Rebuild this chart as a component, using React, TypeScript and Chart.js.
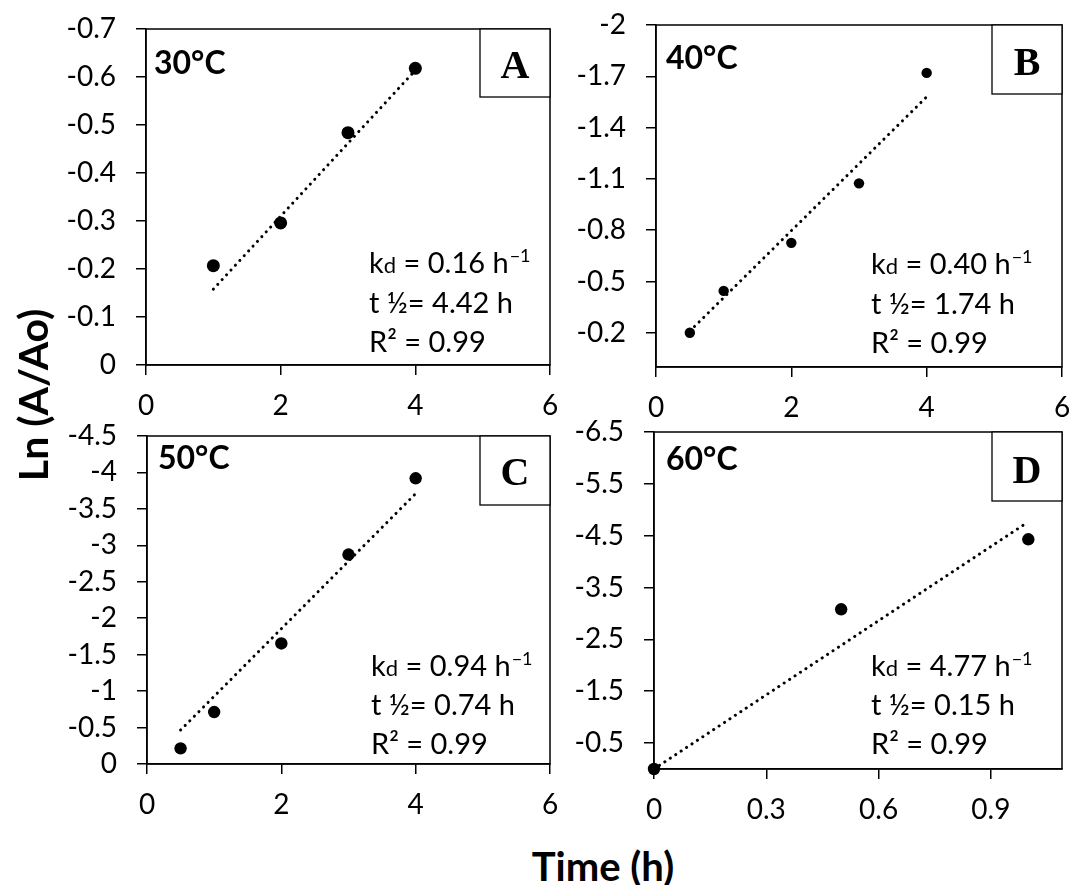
import React, { useEffect, useRef } from 'react';
import { Chart, registerables } from 'chart.js';

Chart.register(...registerables);

const SANS = 'Lato, "Open Sans", "DejaVu Sans", sans-serif';
const SERIF = '"Liberation Serif", "DejaVu Serif", serif';

// ---------- Panel A : 30 °C ----------
const timeA = [1, 2, 3, 4];
const lnA = [-0.207, -0.296, -0.484, -0.618];
const trendTimeA = [1, 4];
const trendLnA = [-0.158, -0.614];
const xTicksA = [0, 2, 4, 6];
const xLabelsA = ['0', '2', '4', '6'];
const yTicksA = [-0.7, -0.6, -0.5, -0.4, -0.3, -0.2, -0.1, 0];
const yLabelsA = ['-0.7', '-0.6', '-0.5', '-0.4', '-0.3', '-0.2', '-0.1', '0'];

// ---------- Panel B : 40 °C ----------
const timeB = [0.5, 1, 2, 3, 4];
const lnB = [-0.2, -0.445, -0.726, -1.074, -1.72];
const trendTimeB = [0.5, 4];
const trendLnB = [-0.21, -1.58];
const xTicksB = [0, 2, 4, 6];
const xLabelsB = ['0', '2', '4', '6'];
const yTicksB = [-2, -1.7, -1.4, -1.1, -0.8, -0.5, -0.2];
const yLabelsB = ['-2', '-1.7', '-1.4', '-1.1', '-0.8', '-0.5', '-0.2'];

// ---------- Panel C : 50 °C ----------
const timeC = [0.5, 1, 2, 3, 4];
const lnC = [-0.215, -0.713, -1.654, -2.874, -3.92];
const trendTimeC = [0.5, 4];
const trendLnC = [-0.466, -3.71];
const xTicksC = [0, 2, 4, 6];
const xLabelsC = ['0', '2', '4', '6'];
const yTicksC = [-4.5, -4, -3.5, -3, -2.5, -2, -1.5, -1, -0.5, 0];
const yLabelsC = ['-4.5', '-4', '-3.5', '-3', '-2.5', '-2', '-1.5', '-1', '-0.5', '0'];

// ---------- Panel D : 60 °C ----------
const timeD = [0, 0.5, 1];
const lnD = [0, -3.08, -4.43];
const trendTimeD = [0, 0.99];
const trendLnD = [0, -4.72];
const xTicksD = [0, 0.3, 0.6, 0.9];
const xLabelsD = ['0', '0.3', '0.6', '0.9'];
const yTicksD = [-6.5, -5.5, -4.5, -3.5, -2.5, -1.5, -0.5];
const yLabelsD = ['-6.5', '-5.5', '-4.5', '-3.5', '-2.5', '-1.5', '-0.5'];

// ---------- text ----------
const temps = ['30°C', '40°C', '50°C', '60°C'];
const letters = ['A', 'B', 'C', 'D'];
const kdValues = ['0.16', '0.40', '0.94', '4.77'];
const halfLives = ['4.42', '1.74', '0.74', '0.15'];
const r2Values = ['0.99', '0.99', '0.99', '0.99'];

type Area = { left: number; top: number; right: number; bottom: number };
type Panel = {
  idx: number;
  time: number[]; ln: number[]; trendTime: number[]; trendLn: number[];
  xTicks: number[]; xLabels: string[]; yTicks: number[]; yLabels: string[];
  xMin: number; xMax: number; yMin: number; yMax: number;
  area: Area; r: number;
  tempDx: number; tempDy: number;
  boxW: number; boxH: number; letterDy: number;
  statDx: number; statDy: number[];
};

const YW = 90;
const XH = 70;
const PT = 45;
const PR = 30;

const panels: Panel[] = [
  {
    idx: 0, time: timeA, ln: lnA, trendTime: trendTimeA, trendLn: trendLnA,
    xTicks: xTicksA, xLabels: xLabelsA, yTicks: yTicksA, yLabels: yLabelsA,
    xMin: 0, xMax: 6, yMin: -0.7, yMax: 0,
    area: { left: 146, top: 29, right: 550, bottom: 365 }, r: 6.5,
    tempDx: 8, tempDy: 45, boxW: 70, boxH: 68, letterDy: 49,
    statDx: 181, statDy: [92, 52, 13],
  },
  {
    idx: 1, time: timeB, ln: lnB, trendTime: trendTimeB, trendLn: trendLnB,
    xTicks: xTicksB, xLabels: xLabelsB, yTicks: yTicksB, yLabels: yLabelsB,
    xMin: 0, xMax: 6, yMin: -2, yMax: 0,
    area: { left: 656, top: 25, right: 1062, bottom: 367 }, r: 5.2,
    tempDx: 10, tempDy: 44, boxW: 70, boxH: 69, letterDy: 50,
    statDx: 191, statDy: [93, 53, 14],
  },
  {
    idx: 2, time: timeC, ln: lnC, trendTime: trendTimeC, trendLn: trendLnC,
    xTicks: xTicksC, xLabels: xLabelsC, yTicks: yTicksC, yLabels: yLabelsC,
    xMin: 0, xMax: 6, yMin: -4.5, yMax: 0,
    area: { left: 147, top: 436, right: 550, bottom: 764 }, r: 6.2,
    tempDx: 11, tempDy: 33, boxW: 70, boxH: 69, letterDy: 49,
    statDx: 179, statDy: [88, 49, 10],
  },
  {
    idx: 3, time: timeD, ln: lnD, trendTime: trendTimeD, trendLn: trendLnD,
    xTicks: xTicksD, xLabels: xLabelsD, yTicks: yTicksD, yLabels: yLabelsD,
    xMin: 0, xMax: 1.09, yMin: -6.5, yMax: 0,
    area: { left: 654, top: 432, right: 1062, bottom: 769 }, r: 6.2,
    tempDx: 12, tempDy: 38, boxW: 70, boxH: 69, letterDy: 51,
    statDx: 191, statDy: [93, 54, 15],
  },
];

function makeDeco(p: Panel) {
  return {
    id: 'panelDeco' + p.idx,
    afterDatasetsDraw(chart: any) {
      const { ctx, chartArea: a } = chart;
      ctx.save();
      ctx.strokeStyle = '#000';
      ctx.fillStyle = '#000';
      ctx.lineWidth = 1.5;
      ctx.strokeRect(a.left, a.top, a.right - a.left, a.bottom - a.top);

      // temperature label
      ctx.textBaseline = 'alphabetic';
      ctx.textAlign = 'left';
      ctx.font = `bold 32px ${SANS}`;
      ctx.fillText(temps[p.idx], a.left + p.tempDx, a.top + p.tempDy);

      // letter box
      const bx = a.right - p.boxW;
      const by = a.top;
      ctx.fillStyle = '#fff';
      ctx.fillRect(bx, by, p.boxW, p.boxH);
      ctx.lineWidth = 1.3;
      ctx.strokeRect(bx, by, p.boxW, p.boxH);
      ctx.fillStyle = '#000';
      ctx.font = `bold 40px ${SERIF}`;
      ctx.textAlign = 'center';
      ctx.fillText(letters[p.idx], bx + p.boxW / 2, by + p.letterDy);

      // statistics
      ctx.textAlign = 'left';
      const sx = a.right - p.statDx;
      const big = `29px ${SANS}`;
      const sub = `22px ${SANS}`;
      const sup = `18px ${SANS}`;
      // line 1: kd = x h^-1
      let x = sx;
      const y = a.bottom - p.statDy[0];
      ctx.font = big;
      ctx.fillText('k', x, y);
      x += ctx.measureText('k').width;
      ctx.font = sub;
      ctx.fillText('d', x, y);
      x += ctx.measureText('d').width;
      ctx.font = big;
      const mid = ` = ${kdValues[p.idx]} h`;
      ctx.fillText(mid, x, y);
      x += ctx.measureText(mid).width;
      ctx.font = sup;
      ctx.fillText('\u22121', x + 1, y - 11);
      // line 2
      ctx.font = big;
      ctx.fillText(`t \u00BD= ${halfLives[p.idx]} h`, sx, a.bottom - p.statDy[1]);
      // line 3
      ctx.fillText(`R\u00B2 = ${r2Values[p.idx]}`, sx, a.bottom - p.statDy[2]);
      ctx.restore();
    },
  };
}

function PanelChart({ p }: { p: Panel }) {
  const ref = useRef<HTMLCanvasElement>(null);
  const w = p.area.right - p.area.left + YW + PR;
  const h = p.area.bottom - p.area.top + PT + XH;
  useEffect(() => {
    const tickFont = { family: SANS, size: 28 };
    const gridOpts = {
      display: true,
      drawOnChartArea: false,
      drawTicks: true,
      tickLength: 10,
      color: '#000',
      lineWidth: 1.5,
    };
    const chart = new Chart(ref.current as HTMLCanvasElement, {
      type: 'scatter',
      data: {
        datasets: [
          {
            data: p.time.map((t, i) => ({ x: t, y: p.ln[i] })),
            showLine: false,
            pointRadius: p.r,
            pointBackgroundColor: '#000',
            pointBorderColor: '#000',
            pointBorderWidth: 0,
            clip: false as any,
            order: 1,
          },
          {
            data: p.trendTime.map((t, i) => ({ x: t, y: p.trendLn[i] })),
            showLine: true,
            borderColor: '#000',
            borderWidth: 3,
            borderDash: [0.1, 6.4],
            borderCapStyle: 'round',
            pointRadius: 0,
            fill: false,
            order: 2,
          },
        ],
      },
      options: {
        animation: false,
        responsive: false,
        maintainAspectRatio: false,
        events: [],
        layout: { padding: { left: 0, top: PT, right: PR, bottom: 0 } },
        plugins: { legend: { display: false }, tooltip: { enabled: false }, title: { display: false } },
        scales: {
          x: {
            type: 'linear',
            position: 'bottom',
            min: p.xMin,
            max: p.xMax,
            afterBuildTicks: (s: any) => { s.ticks = p.xTicks.map((v) => ({ value: v })); },
            afterFit: (s: any) => { s.height = XH; },
            ticks: {
              autoSkip: false,
              maxRotation: 0,
              minRotation: 0,
              padding: 14,
              color: '#000',
              font: tickFont,
              callback: (_v: any, i: number) => p.xLabels[i],
            },
            grid: gridOpts,
            border: { display: true, color: '#000', width: 1.5 },
          },
          y: {
            type: 'linear',
            position: 'left',
            reverse: true,
            min: p.yMin,
            max: p.yMax,
            afterBuildTicks: (s: any) => { s.ticks = p.yTicks.map((v) => ({ value: v })); },
            afterFit: (s: any) => { s.width = YW; },
            ticks: {
              autoSkip: false,
              padding: 20,
              color: '#000',
              font: tickFont,
              callback: (_v: any, i: number) => p.yLabels[i],
            },
            grid: gridOpts,
            border: { display: true, color: '#000', width: 1.5 },
          },
        },
      } as any,
      plugins: [makeDeco(p)],
    });
    return () => chart.destroy();
  }, [p]);
  return (
    <canvas
      ref={ref}
      width={w}
      height={h}
      style={{
        position: 'absolute',
        left: p.area.left - YW,
        top: p.area.top - PT,
        width: w,
        height: h,
      }}
    />
  );
}

export default function App() {
  return (
    <div
      style={{
        position: 'absolute',
        left: 0,
        top: 0,
        width: 1072,
        height: 885,
        overflow: 'hidden',
        background: '#fff',
      }}
    >
      {panels.map((p) => (
        <PanelChart key={p.idx} p={p} />
      ))}
      <div
        style={{
          position: 'absolute',
          left: 33 - 150,
          top: 395 - 25,
          width: 300,
          height: 50,
          lineHeight: '50px',
          textAlign: 'center',
          transform: 'rotate(-90deg)',
          fontFamily: SANS,
          fontWeight: 'bold',
          fontSize: 41,
          color: '#000',
          whiteSpace: 'nowrap',
        }}
      >
        Ln (A/Ao)
      </div>
      <div
        style={{
          position: 'absolute',
          left: 603 - 150,
          top: 846,
          width: 300,
          height: 40,
          lineHeight: '40px',
          textAlign: 'center',
          fontFamily: SANS,
          fontWeight: 'bold',
          fontSize: 40,
          color: '#000',
          whiteSpace: 'nowrap',
        }}
      >
        Time (h)
      </div>
    </div>
  );
}
